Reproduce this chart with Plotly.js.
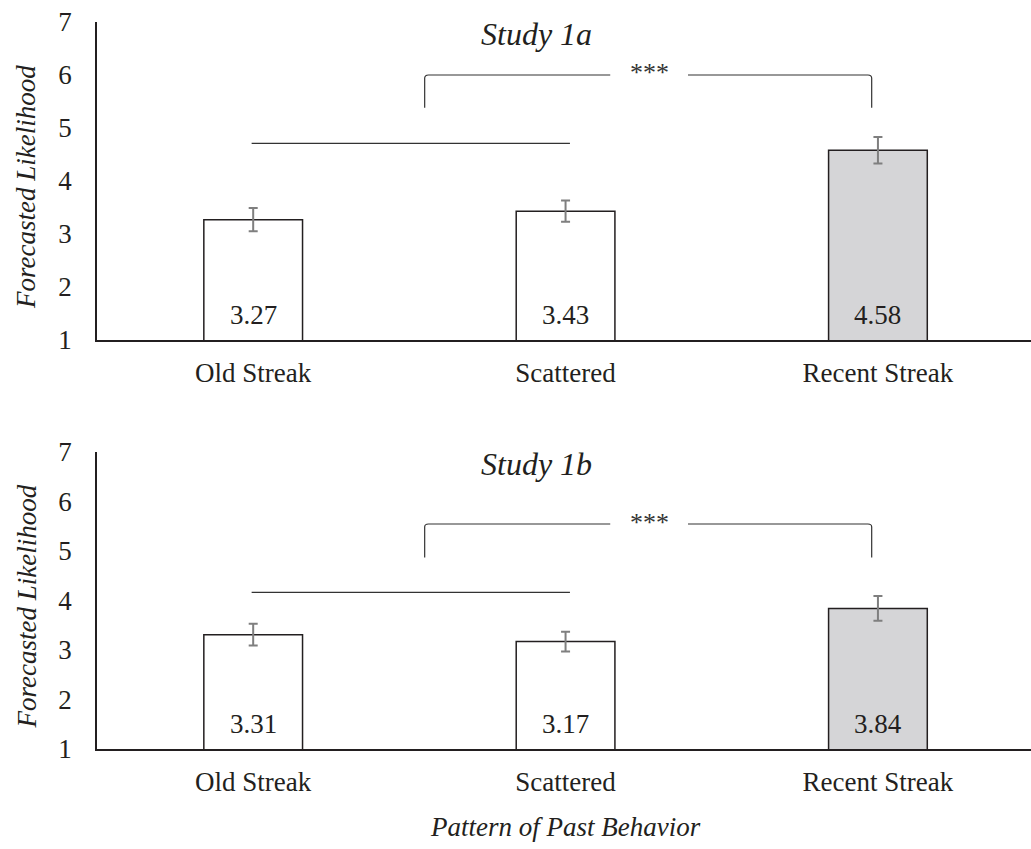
<!DOCTYPE html>
<html>
<head>
<meta charset="utf-8">
<script src="https://cdn.plot.ly/plotly-3.0.1.min.js"></script>
<style>html,body{margin:0;padding:0;background:#fff;}#chart{width:1031px;height:849px;}</style>
</head>
<body>
<div id="chart"></div>
<script>
// ---- data ----
const categories = ['Old Streak', 'Scattered', 'Recent Streak'];
const study1a = [3.27, 3.43, 4.58];
const study1b = [3.31, 3.17, 3.84];
const err1a = [0.22, 0.20, 0.25];
const err1b = [0.22, 0.20, 0.25];
const barColors = ['#ffffff', '#ffffff', '#d5d5d7'];
const panelTitles = ['Study 1a', 'Study 1b'];
const sigLabel = '***';
// bracket levels (y values): [top of bracket, bottom of legs, pooled line]
const bracket1a = [6.0, 5.38, 4.71];
const bracket1b = [5.545, 4.87, 4.166];
const yTicks = [1, 2, 3, 4, 5, 6, 7];

const FONT = '"Liberation Serif", "Times New Roman", serif';
const INK = '#231f20';

function barTrace(vals, errs, xa, ya) {
  return {
    type: 'bar', x: [0, 1, 2], y: vals, xaxis: xa, yaxis: ya,
    width: 0.316,
    marker: { color: barColors, line: { color: INK, width: 1.5 } },
    error_y: { type: 'data', array: errs, visible: true, color: '#7f7f7f', thickness: 2, width: 4.5 },
    hoverinfo: 'skip', showlegend: false
  };
}

const data = [barTrace(study1a, err1a, 'x', 'y'), barTrace(study1b, err1b, 'x2', 'y2')];

function bracketShapes(b, xr, yr) {
  const [top, leg, line] = b;
  const x0 = 0.549, x1 = 1.98, g0 = 1.143, g1 = 1.392;
  const rx = 0.012, ry = 0.06;
  return [
    { type: 'path', xref: xr, yref: yr, line: { color: '#333', width: 1.2 },
      path: `M ${x0},${leg} L ${x0},${top - ry} Q ${x0},${top} ${x0 + rx},${top} L ${g0},${top}` },
    { type: 'path', xref: xr, yref: yr, line: { color: '#333', width: 1.2 },
      path: `M ${g1},${top} L ${x1 - rx},${top} Q ${x1},${top} ${x1},${top - ry} L ${x1},${leg}` },
    { type: 'line', xref: xr, yref: yr, x0: -0.005, x1: 1.014, y0: line, y1: line,
      line: { color: '#333', width: 1.2 } }
  ];
}

const annotations = [];
function panelAnn(vals, b, title, xr, yr) {
  vals.forEach((v, i) => annotations.push({
    xref: xr, yref: yr, x: i, y: 1, yanchor: 'middle', yshift: 25, showarrow: false,
    text: v.toFixed(2), font: { family: FONT, size: 27, color: INK }
  }));
  annotations.push({
    xref: xr, yref: yr, x: (1.143 + 1.392) / 2, y: b[0], showarrow: false, text: sigLabel,
    yshift: 2, font: { family: FONT, size: 26, color: '#333' }
  });
  annotations.push({
    xref: 'paper', yref: yr + ' domain', x: 0.471, y: 1, yanchor: 'middle', yshift: -12,
    showarrow: false, text: '<i>' + title + '</i>', font: { family: FONT, size: 32, color: INK }
  });
  annotations.push({
    xref: 'paper', yref: yr + ' domain', x: 0, xanchor: 'center', xshift: -71, y: 0.5, yanchor: 'middle',
    yshift: -6, textangle: -90,
    showarrow: false, text: '<i>Forecasted Likelihood</i>', font: { family: FONT, size: 27, color: INK }
  });
}
panelAnn(study1a, bracket1a, panelTitles[0], 'x', 'y');
panelAnn(study1b, bracket1b, panelTitles[1], 'x2', 'y2');
annotations.push({
  xref: 'paper', yref: 'paper', x: 0.502, y: 1 - 827 / 849, yanchor: 'middle', showarrow: false,
  text: '<i>Pattern of Past Behavior</i>', font: { family: FONT, size: 27, color: INK }
});

const xCommon = {
  range: [-0.5, 2.49], tickvals: [0, 1, 2], ticktext: categories, showline: true,
  linecolor: INK, linewidth: 1.8, ticks: '', showgrid: false, zeroline: false,
  ticklabelstandoff: 8, tickfont: { family: FONT, size: 27, color: INK }, fixedrange: true
};
const yCommon = {
  range: [1, 7], tickvals: yTicks, showline: true, linecolor: INK, linewidth: 1.8,
  ticks: '', showgrid: false, zeroline: false, ticklabelstandoff: 18,
  tickfont: { family: FONT, size: 27, color: INK }, fixedrange: true
};

const layout = {
  width: 1031, height: 849,
  margin: { l: 97, r: 0, t: 0, b: 0 },
  paper_bgcolor: '#fff', plot_bgcolor: '#fff',
  font: { family: FONT, color: INK },
  xaxis: Object.assign({}, xCommon, { anchor: 'y', domain: [0, 1] }),
  yaxis: Object.assign({}, yCommon, { anchor: 'x', domain: [1 - 340 / 849, 1 - 22 / 849] }),
  xaxis2: Object.assign({}, xCommon, { anchor: 'y2', domain: [0, 1] }),
  yaxis2: Object.assign({}, yCommon, { anchor: 'x2', domain: [1 - 749 / 849, 1 - 452 / 849] }),
  shapes: bracketShapes(bracket1a, 'x', 'y').concat(bracketShapes(bracket1b, 'x2', 'y2')),
  annotations: annotations,
  showlegend: false
};

Plotly.newPlot('chart', data, layout, { displayModeBar: false, staticPlot: true });
</script>
</body>
</html>
